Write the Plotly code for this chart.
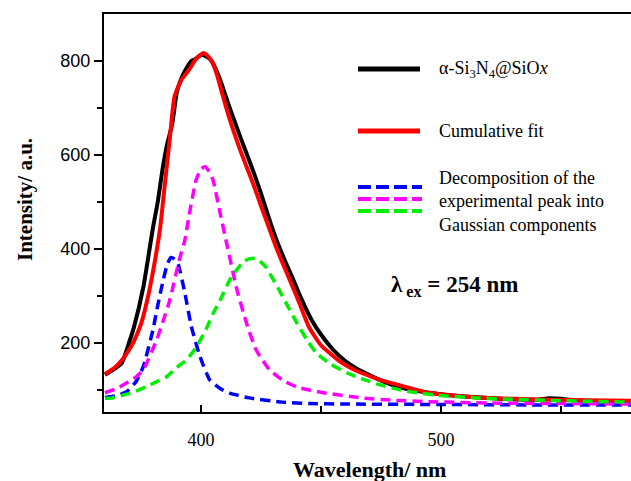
import plotly.graph_objects as go

# ---- data ----
exp_x = [360, 364, 367, 370, 372, 376, 380, 382, 384, 386, 388, 390, 392, 394, 396, 398,
         400, 402, 404, 406, 408, 410, 412, 414, 417, 420, 423, 426, 429, 432, 435, 438,
         442, 446, 450, 455, 460, 465, 470, 475, 480, 490, 500, 510, 520, 530, 540, 545,
         550, 555, 560, 570, 580]
exp_y = [132, 145, 157, 200, 232, 319, 445, 500, 570, 625, 665, 735, 765, 785, 800, 805,
         813, 810, 803, 785, 760, 730, 700, 672, 630, 590, 548, 503, 455, 412, 375, 340,
         292, 250, 218, 186, 162, 145, 132, 120, 110, 98, 91, 86, 83, 80, 79, 82,
         81, 78, 77, 76, 75]

fit_x = [360, 364, 367, 370, 372, 375, 378, 381, 383, 385, 387, 389, 392, 395, 398, 401,
         403, 405, 407, 409, 411, 413, 416, 419, 422, 425, 428, 431, 434, 437, 441, 445,
         450, 454, 458, 463, 467, 475, 482, 490, 495, 505, 515, 530, 545, 560, 580]
fit_y = [134, 147, 163, 185, 203, 240, 300, 380, 445, 540, 634, 725, 761, 781, 805, 817,
         810, 795, 765, 728, 692, 660, 615, 575, 535, 492, 450, 408, 370, 334, 285, 234,
         195, 177, 160, 145, 136, 121, 111, 100, 94, 88, 84, 81, 79, 78, 77]

blue_x = [360, 365, 369, 373, 376, 380, 382, 384.3, 386, 387.5, 389, 390.6, 393.3, 396,
          399.6, 403.7, 408, 412, 420, 434, 445, 460, 500, 540, 580]
blue_y = [84, 88, 96, 118, 150, 228, 280, 334, 368, 382, 378, 366, 306, 235,
          171, 121, 103, 93, 83, 74, 71, 70, 69, 68, 68]

mag_x = [360, 365, 369, 373, 376, 381.5, 384, 387, 391, 393.3, 395, 398, 400, 401.7, 403,
         405, 408, 410.7, 415, 419, 423, 428.7, 434, 440, 451, 467, 480, 495, 520,
         550, 580]
mag_y = [94, 103, 115, 128, 143, 206, 243, 291, 377, 419, 470, 547, 570, 575, 568,
         547, 476, 412, 313, 242, 185, 142, 121, 106, 94, 83, 78, 75, 72,
         71, 70]

grn_x = [360, 363, 367, 371.7, 377.4, 381, 385.7, 390, 394, 398.2, 402.4, 405, 408, 412,
         415, 417.6, 420, 423, 425, 427, 429, 432, 436, 440, 444, 448, 454, 461, 468,
         474.6, 483, 490, 500, 515, 530, 550, 580]
grn_y = [82, 83, 88, 95, 107, 116, 128, 148, 164, 192, 232, 262, 291, 334,
         356, 372, 379, 380, 372, 362, 345, 318, 280, 242, 208, 179, 155, 136, 122,
         111, 100, 94, 88, 83, 80, 77, 74]

x_ticks = [400, 500]
y_ticks = [200, 400, 600, 800]

legend_main = "α-Si<sub>3</sub>N<sub>4</sub>@SiO<i>x</i>"
legend_fit = "Cumulative fit"
legend_dec = "Decomposition of the<br>experimental peak into<br>Gaussian components"

W, H = 631, 481
ML, MR, MT, MB = 104, 0, 14, 69
PW, PH = W - ML - MR, H - MT - MB


def px(x):
    return (x - ML) / PW


def py(y):
    return (H - MB - y) / PH


dash = "10px,6px"
sm = 0.5
fig = go.Figure()
fig.add_trace(go.Scatter(x=exp_x, y=exp_y, mode="lines", name=legend_main,
                         line=dict(color="black", width=4, shape="spline", smoothing=sm)))
fig.add_trace(go.Scatter(x=fit_x, y=fit_y, mode="lines", name=legend_fit,
                         line=dict(color="#ff0000", width=4, shape="spline", smoothing=sm)))
fig.add_trace(go.Scatter(x=blue_x, y=blue_y, mode="lines", name="G1",
                         line=dict(color="#0000ff", width=3.5, dash=dash, shape="spline", smoothing=sm)))
fig.add_trace(go.Scatter(x=mag_x, y=mag_y, mode="lines", name="G2",
                         line=dict(color="#ff00ff", width=3.5, dash=dash, shape="spline", smoothing=sm)))
fig.add_trace(go.Scatter(x=grn_x, y=grn_y, mode="lines", name="G3",
                         line=dict(color="#00ee00", width=3.5, dash=dash, shape="spline", smoothing=sm)))

shapes = []
# legend samples (paper coords)
shapes.append(dict(type="line", xref="paper", yref="paper", x0=px(358), x1=px(420),
                   y0=py(69), y1=py(69), line=dict(color="black", width=5)))
shapes.append(dict(type="line", xref="paper", yref="paper", x0=px(358), x1=px(420),
                   y0=py(131), y1=py(131), line=dict(color="#ff0000", width=5)))
for yy, c in [(187, "#0000ff"), (199, "#ff00ff"), (211, "#00ee00")]:
    shapes.append(dict(type="line", xref="paper", yref="paper", x0=px(358), x1=px(422),
                       y0=py(yy), y1=py(yy), line=dict(color=c, width=4, dash="13px,5px")))

serif = "Liberation Serif, Times New Roman, serif"
annotations = [
    dict(text=legend_main, xref="paper", yref="paper", x=px(437), y=py(69), xanchor="left",
         yanchor="middle", showarrow=False, font=dict(family=serif, size=18, color="black")),
    dict(text=legend_fit, xref="paper", yref="paper", x=px(437), y=py(131), xanchor="left",
         yanchor="middle", showarrow=False, font=dict(family=serif, size=18, color="black")),
    dict(text=legend_dec, xref="paper", yref="paper", x=px(437), y=py(201), xanchor="left",
         yanchor="middle", align="left", showarrow=False,
         font=dict(family=serif, size=18, color="black")),
    dict(text="<b>λ<sub> ex</sub> = 254 nm</b>", xref="paper", yref="paper", x=px(389),
         y=py(286), xanchor="left", yanchor="middle", showarrow=False,
         font=dict(family=serif, size=23, color="black")),
    dict(text="<b>Wavelength/ nm</b>", xref="paper", yref="paper", x=px(369), y=py(469),
         xanchor="center", yanchor="middle", showarrow=False,
         font=dict(family=serif, size=22, color="black")),
    dict(text="<b>Intensity/ a.u.</b>", xref="paper", yref="paper", x=px(25), y=py(200),
         xanchor="center", yanchor="middle", textangle=-90, showarrow=False,
         font=dict(family=serif, size=21, color="black")),
]

fig.update_layout(
    width=W, height=H,
    margin=dict(l=ML, r=MR, t=MT, b=MB, pad=0),
    paper_bgcolor="white", plot_bgcolor="white",
    showlegend=False,
    shapes=shapes, annotations=annotations,
    xaxis=dict(range=[359.6, 579.2], tickvals=x_ticks, ticks="inside", ticklen=7,
               tickwidth=1.5, tickcolor="black", showline=True, linecolor="black",
               linewidth=2, mirror=True, showgrid=False, zeroline=False,
               tickfont=dict(family=serif, size=18, color="black"),
               minor=dict(tickvals=[450, 550], ticks="inside", ticklen=6,
                          tickwidth=1.5, tickcolor="black"),
               ticklabelstandoff=10),
    yaxis=dict(range=[53, 900], tickvals=y_ticks, ticks="outside", ticklen=8,
               tickwidth=1.5, tickcolor="black", showline=True, linecolor="black",
               linewidth=2, showgrid=False, zeroline=False,
               tickfont=dict(family="Liberation Sans, Arial, sans-serif", size=18, color="black"),
               minor=dict(tickvals=[100, 300, 500, 700], ticks="outside", ticklen=5,
                          tickwidth=1.5, tickcolor="black")),
)

fig.write_html("out.html", config={"displayModeBar": False},
               post_script="document.body.style.margin='0';")
